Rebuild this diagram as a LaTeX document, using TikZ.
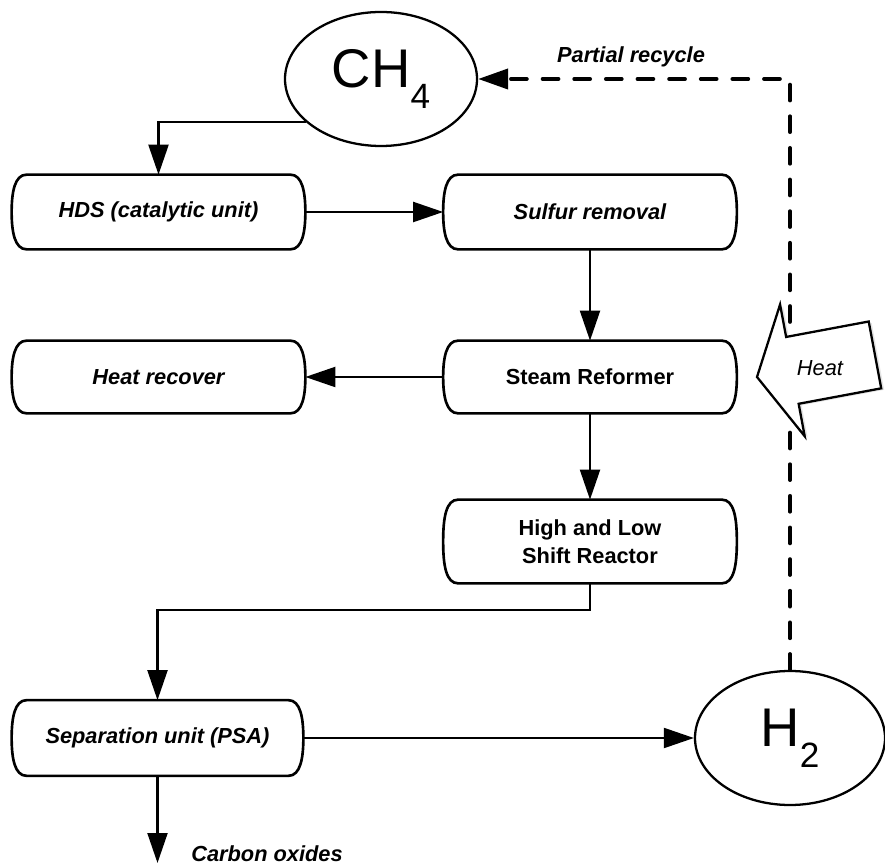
\documentclass[tikz,border=0pt]{standalone}
\usepackage{fontspec}
\setmainfont{Liberation Sans}
\usepackage{tikz}
\usetikzlibrary{arrows.meta}
\usetikzlibrary{calc}
\usetikzlibrary{shapes}
\usetikzlibrary{shadows}

\newcommand{\lowsub}[1]{\raisebox{-12pt}{\fontsize{20}{20}\selectfont #1}}

\begin{document}
\begin{tikzpicture}[
        unit_style/.style={rectangle,minimum width=5.86cm,minimum height=1.48cm,inner sep=0pt,align=center,font=\fontsize{12.4}{16}\selectfont\bfseries\itshape},
        plain_unit_style/.style={unit_style,font=\fontsize{12.4}{16}\selectfont\bfseries},
        stream_style/.style={ellipse,draw=black,line width=1.3pt,minimum width=3.84cm,minimum height=2.68cm,inner sep=0pt,font=\fontsize{31}{31}\selectfont},
        outline_style/.style={draw=black,line width=1.5pt},
        edge_style/.style={draw=black,line width=1.2pt,-{Triangle[length=0.6cm,width=0.4cm]}},
        recycle_style/.style={draw=black,line width=2.2pt,line cap=round,dash pattern=on 9pt off 9pt,-{Triangle[length=0.6cm,width=0.4cm]}},
        heat_style/.style={draw=black,fill=white,line width=1.3pt,drop shadow={shadow xshift=0.06cm,shadow yshift=-0.03cm,fill=black!20}},
        label_style/.style={font=\fontsize{12.4}{14}\selectfont\bfseries\itshape}]

        \useasboundingbox (0,0) rectangle (17.70,17.32);

        \node [stream_style](ch4) at (7.62,15.74) {CH\lowsub{4}};

        \node [stream_style,minimum width=3.8cm](h2) at (15.80,2.56) {H\lowsub{2}};

        \node [unit_style](hds) at (3.17,13.08) {HDS (catalytic unit)};

        \node [unit_style](sulfur) at (11.80,13.08) {Sulfur removal};

        \node [unit_style,minimum height=1.44cm](heatrec) at (3.17,9.78) {Heat recover};

        \node [plain_unit_style,minimum height=1.44cm](steam) at (11.80,9.78) {Steam Reformer};

        \node [plain_unit_style,minimum height=1.66cm](shift) at (11.80,6.49) {High and Low\\Shift Reactor};

        \node [unit_style,minimum width=5.82cm,minimum height=1.5cm](psa) at (3.15,2.56) {Separation unit (PSA)};

        \node [label_style](recycle_label) at (12.62,16.18) {Partial recycle};

        \node [label_style](co_label) at (5.34,0.25) {Carbon oxides};

        \coordinate (co_end) at (3.15,0.06);

        % unit outlines: flat top and bottom, bulging sides
        \foreach \n in {hds,sulfur,heatrec,steam,shift,psa}
            \draw [outline_style] ([xshift=0.3cm]\n.north west) -- ([xshift=-0.3cm]\n.north east)
                .. controls ([xshift=-0.06cm]\n.north east) and ([yshift=-0.35cm]\n.north east) .. (\n.east)
                .. controls ([yshift=0.35cm]\n.south east) and ([xshift=-0.06cm]\n.south east) .. ([xshift=-0.3cm]\n.south east)
                -- ([xshift=0.3cm]\n.south west)
                .. controls ([xshift=0.06cm]\n.south west) and ([yshift=0.35cm]\n.south west) .. (\n.west)
                .. controls ([yshift=-0.35cm]\n.north west) and ([xshift=0.06cm]\n.north west) .. cycle;

        \draw [edge_style] (ch4.210) -| (hds.north);

        \draw [edge_style] (hds) -- (sulfur);

        \draw [edge_style] (sulfur) -- (steam);

        \draw [edge_style] (steam) -- (heatrec);

        \draw [edge_style] (steam) -- (shift);

        \draw [edge_style] (shift.south) -- ++(0,-0.54) -| (psa.north);

        \draw [edge_style] (psa) -- (h2);

        \draw [edge_style] (psa.south) -- (co_end);

        \draw [recycle_style] (h2.north) |- (ch4.east);

        % heat input arrow, drawn over the recycle line
        \draw [heat_style,shift={(15.14,9.78)},rotate=10.6] (0,0) -- (0.72,1.34) -- (0.72,0.68) -- (2.4,0.68)
            -- (2.4,-0.68) -- (0.72,-0.68) -- (0.72,-1.34) -- cycle;

        \node [font=\fontsize{12.4}{14}\selectfont\itshape](heat) at (16.40,9.96) {Heat};

\end{tikzpicture}
\end{document}
